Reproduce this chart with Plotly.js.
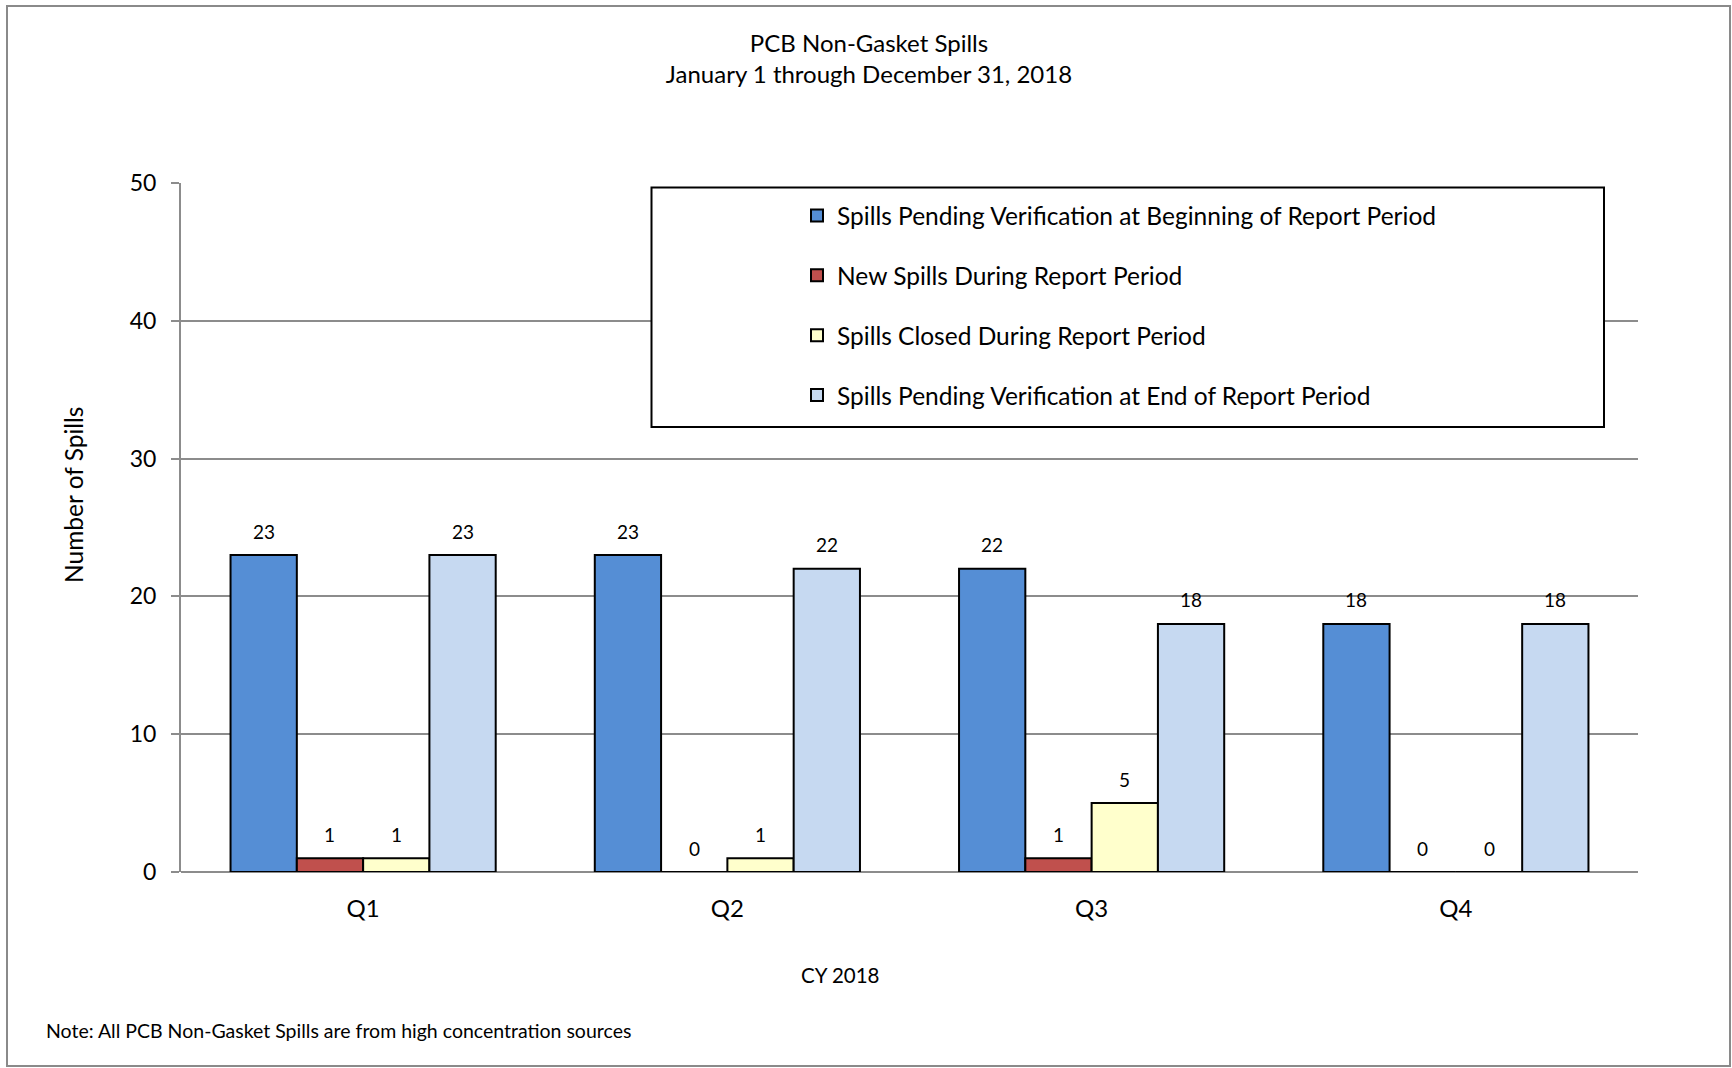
<!DOCTYPE html>
<html>
<head>
<meta charset="utf-8">
<script src="https://cdn.plot.ly/plotly-3.0.1.min.js"></script>
<style>html,body{margin:0;padding:0;background:#fff;}</style>
</head>
<body>
<div id="chart" style="width:1732px;height:1068px;"></div>
<script>
// ---- data ----
const quarters = ['Q1', 'Q2', 'Q3', 'Q4'];
const seriesNames = [
  'Spills Pending Verification at Beginning of Report Period',
  'New Spills During Report Period',
  'Spills Closed During Report Period',
  'Spills Pending Verification at End of Report Period'
];
const pendingBegin = [23, 23, 22, 18];
const newSpills = [1, 0, 1, 0];
const closedSpills = [1, 1, 5, 0];
const pendingEnd = [23, 22, 18, 18];
const yTicks = [0, 10, 20, 30, 40, 50];

const titleText = 'PCB Non-Gasket Spills<br>January 1 through December 31, 2018';
const yTitle = 'Number of Spills';
const xTitle = 'CY 2018';
const noteText = 'Note: All PCB Non-Gasket Spills are from high concentration sources';

// ---- styles ----
const colors = ['#558ED5', '#C0504D', '#FFFFCC', '#C6D9F1'];
const FONT = 'Lato, "Open Sans", sans-serif';
const gridColor = '#8c8c8c';
const bargap = 0.272;

const W = 1732, H = 1068;
const L = 181, R = 1638, T = 183, B = 872;
const px2x = p => (p - L) / (R - L);
const py2y = p => (B - p) / (B - T);

const allSeries = [pendingBegin, newSpills, closedSpills, pendingEnd];

const traces = allSeries.map((vals, i) => ({
  type: 'bar',
  name: seriesNames[i],
  x: quarters,
  y: vals,
  legendgroup: 'g' + i,
  marker: { color: colors[i], line: { color: '#000', width: 2 } },
  hoverinfo: 'x+y+name'
}));

// data labels above each bar
const nS = allSeries.length;
const bw = (1 - bargap) / nS;
const annotations = [];
allSeries.forEach((vals, i) => {
  const off = -(1 - bargap) / 2 + (i + 0.5) * bw;
  vals.forEach((v, j) => {
    annotations.push({
      x: j + off, y: v, xref: 'x', yref: 'y',
      text: String(v), showarrow: false,
      yanchor: 'middle', yshift: 24,
      font: { family: FONT, size: 19, color: '#000' }
    });
  });
});

annotations.push({
  xref: 'paper', yref: 'paper', x: px2x(73), y: py2y(495),
  text: yTitle, textangle: -90, showarrow: false,
  xanchor: 'center', yanchor: 'middle',
  font: { family: FONT, size: 24.5, color: '#000' }
});
annotations.push({
  xref: 'paper', yref: 'paper', x: px2x(840), y: py2y(975),
  text: xTitle, showarrow: false, xanchor: 'center', yanchor: 'middle',
  font: { family: FONT, size: 20.5, color: '#000' }
});
annotations.push({
  xref: 'paper', yref: 'paper', x: px2x(44), y: py2y(1030),
  text: noteText, showarrow: false, xanchor: 'left', yanchor: 'middle',
  font: { family: FONT, size: 19.5, color: '#000' }
});

const shapes = [
  { type: 'rect', xref: 'paper', yref: 'paper', layer: 'below',
    x0: px2x(7), x1: px2x(1730), y0: py2y(1066), y1: py2y(6),
    line: { color: '#8a8a8a', width: 2 }, fillcolor: 'rgba(0,0,0,0)' },
  { type: 'rect', xref: 'paper', yref: 'paper', layer: 'above',
    x0: px2x(651.5), x1: px2x(1604), y0: py2y(427), y1: py2y(187.5),
    line: { color: '#000', width: 2 }, fillcolor: '#fff' }
];

const layout = {
  width: W, height: H,
  margin: { l: L, r: W - R, t: T, b: H - B, pad: 0 },
  paper_bgcolor: '#fff', plot_bgcolor: '#fff',
  font: { family: FONT, color: '#000', size: 20 },
  title: {
    text: titleText, x: 869 / W, xanchor: 'center',
    y: 1 - 52 / H, yanchor: 'middle',
    font: { family: FONT, size: 24, color: '#000' }
  },
  barmode: 'group', bargap: bargap, bargroupgap: 0,
  showlegend: true,
  legend: {
    x: px2x(797), xanchor: 'left', y: py2y(193), yanchor: 'top',
    bgcolor: 'rgba(0,0,0,0)', borderwidth: 0,
    tracegroupgap: 25,
    font: { family: FONT, size: 24.5, color: '#000' }
  },
  xaxis: {
    type: 'category', showgrid: false, zeroline: false,
    showline: false, ticks: '', ticklabelstandoff: 20,
    tickfont: { family: FONT, size: 24, color: '#000' }
  },
  yaxis: {
    range: [0, 50], tickvals: yTicks, showgrid: true,
    gridcolor: gridColor, gridwidth: 2,
    zeroline: true, zerolinecolor: gridColor, zerolinewidth: 2,
    showline: true, linecolor: gridColor, linewidth: 2,
    ticks: 'outside', ticklen: 8, tickwidth: 2, tickcolor: gridColor,
    ticklabelstandoff: 10,
    tickfont: { family: FONT, size: 23, color: '#000' }
  },
  annotations: annotations,
  shapes: shapes
};

Plotly.newPlot('chart', traces, layout, { displayModeBar: false, staticPlot: false });
</script>
</body>
</html>
